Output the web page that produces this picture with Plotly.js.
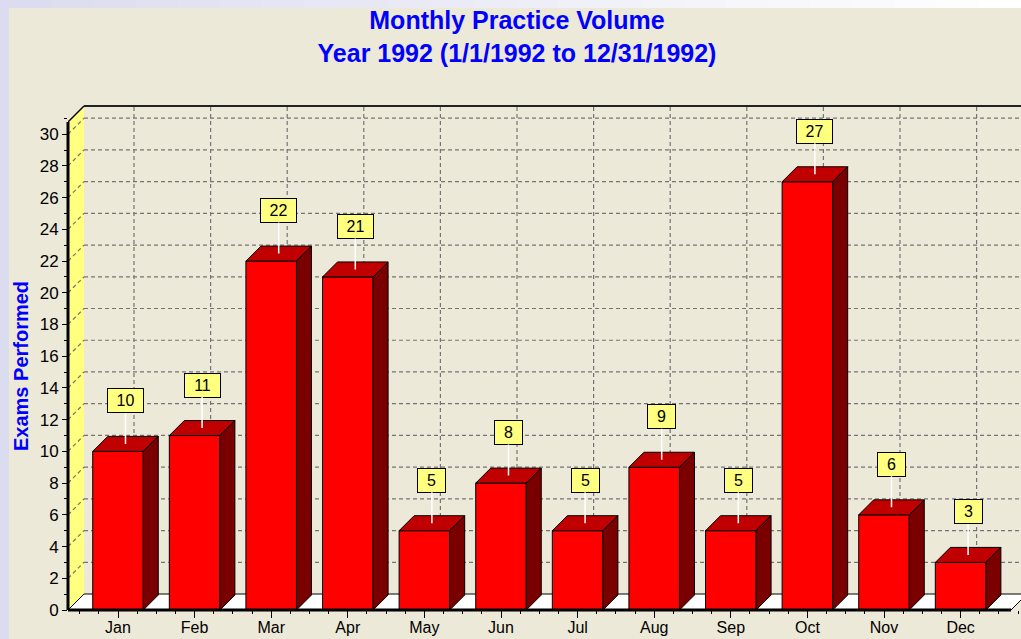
<!DOCTYPE html>
<html>
<head>
<meta charset="utf-8">
<script src="https://cdn.plot.ly/plotly-3.0.1.min.js"></script>
<style>
html,body{margin:0;padding:0;background:#ECE9D8;overflow:hidden;}
#chart{width:1021px;height:639px;}
</style>
</head>
<body>
<div id="chart"></div>
<script>
// ---------------- data ----------------
const months = ['Jan','Feb','Mar','Apr','May','Jun','Jul','Aug','Sep','Oct','Nov','Dec'];
const exams = [10, 11, 22, 21, 5, 8, 5, 9, 5, 27, 6, 3];
const yTicks = [0,2,4,6,8,10,12,14,16,18,20,22,24,26,28,30];
const yMinorTicks = [1,3,5,7,9,11,13,15,17,19,21,23,25,27,29,31];
const titleLines = ['Monthly Practice Volume', 'Year 1992 (1/1/1992 to 12/31/1992)'];
const yTitle = 'Exams Performed';

// ---------------- geometry (pixels -> data units) ----------------
const W = 1021, H = 639;
const ML = 68, MR = 0, MT = 100, MB = 29;
const PX_X = 76.6;            // px per category
const PX_Y = 15.86;           // px per exam
const X0 = (ML - 118) / PX_X; // front-left corner (first category centre at 118px)
const X1 = X0 + (W - ML - MR) / PX_X;
const YTOP = (H - MT - MB) / PX_Y;
const wdx = 16 / PX_X, wdy = 16 / PX_Y;   // wall / floor depth
const bdx = 15 / PX_X, bdy = 15 / PX_Y;   // bar depth
const half = 0.33;                        // half bar width
const backTop = YTOP - 6 / PX_Y;          // top edge of back wall
const frontTop = backTop - wdy;           // top of front axis
const floorEnd = months.length - 1 + 0.658;

const idx = months.map((m, i) => i);
const FONT = 'Liberation Sans, Arial, sans-serif';

// ---------------- bar faces ----------------
const topX = [], topY = [], sideX = [], sideY = [];
idx.forEach(i => {
  const v = exams[i];
  topX.push(i - half, i + half, i + half + bdx, i - half + bdx, i - half, null);
  topY.push(v, v, v + bdy, v + bdy, v, null);
  sideX.push(i + half, i + half + bdx, i + half + bdx, i + half, i + half, null);
  sideY.push(0, bdy, v + bdy, v, 0, null);
});

const traces = [
  {
    type: 'bar', x: idx, y: exams, width: 2 * half,
    marker: {color: '#FF0000', line: {color: '#000000', width: 1}},
    hoverinfo: 'skip', showlegend: false
  },
  {
    type: 'scatter', mode: 'lines', x: topX, y: topY, fill: 'toself',
    fillcolor: '#C00000', line: {color: '#000000', width: 1},
    hoverinfo: 'skip', showlegend: false
  },
  {
    type: 'scatter', mode: 'lines', x: sideX, y: sideY, fill: 'toself',
    fillcolor: '#7A0000', line: {color: '#000000', width: 1},
    hoverinfo: 'skip', showlegend: false
  }
];

// ---------------- decorative shapes ----------------
const shapes = [];
const pxToPaperX = px => (px - ML) / (W - ML - MR);
const pxToPaperY = py => (H - MB - py) / (H - MT - MB);
// page frame strips (lavender)
shapes.push({type: 'rect', xref: 'paper', yref: 'paper', layer: 'below',
  x0: pxToPaperX(0), x1: pxToPaperX(9), y0: pxToPaperY(H), y1: pxToPaperY(0),
  fillcolor: '#DCDCF0', line: {width: 0}});
const nSeg = 24;
for (let s = 0; s < nSeg; s++) {
  const t = s / (nSeg - 1);
  const c = Math.round(220 + t * 35), cb = Math.round(240 + t * 15);
  shapes.push({type: 'rect', xref: 'paper', yref: 'paper', layer: 'below',
    x0: pxToPaperX(9 + s * (W - 9) / nSeg), x1: pxToPaperX(9 + (s + 1) * (W - 9) / nSeg + 1),
    y0: pxToPaperY(8), y1: pxToPaperY(0),
    fillcolor: `rgb(${c},${c},${cb})`, line: {width: 0}});
}
// left side wall (yellow)
shapes.push({type: 'path', xref: 'x', yref: 'y', layer: 'below',
  path: `M ${X0},0 L ${X0},${frontTop} L ${X0 + wdx},${backTop} L ${X0 + wdx},${wdy} Z`,
  fillcolor: '#FFFF80', line: {width: 0}});
const gridLine = {color: '#747474', width: 1.2, dash: '4px,3px'};
yTicks.filter(v => v > 0).forEach(v => {
  // back-wall horizontal gridlines
  shapes.push({type: 'line', xref: 'x', yref: 'y', layer: 'below',
    x0: X0 + wdx, x1: X1 + 1, y0: v + wdy, y1: v + wdy, line: gridLine});
  // side-wall diagonal gridlines
  shapes.push({type: 'line', xref: 'x', yref: 'y', layer: 'below',
    x0: X0, x1: X0 + wdx, y0: v, y1: v + wdy, line: gridLine});
});
// back-wall vertical gridlines
idx.forEach(i => {
  shapes.push({type: 'line', xref: 'x', yref: 'y', layer: 'below',
    x0: i + wdx, x1: i + wdx, y0: wdy, y1: backTop, line: gridLine});
});
// top edges of walls
shapes.push({type: 'line', xref: 'x', yref: 'y', layer: 'below',
  x0: X0 + wdx, x1: X1 + 1, y0: backTop, y1: backTop, line: {color: '#222222', width: 2}});
shapes.push({type: 'line', xref: 'x', yref: 'y', layer: 'below',
  x0: X0, x1: X0 + wdx, y0: frontTop, y1: backTop, line: {color: '#000000', width: 1.5}});
// floor (white)
shapes.push({type: 'path', xref: 'x', yref: 'y', layer: 'below',
  path: `M ${X0},0 L ${floorEnd},0 L ${floorEnd + wdx},${wdy} L ${X0 + wdx},${wdy} Z`,
  fillcolor: '#FFFFFF', line: {color: '#000000', width: 1}});
// front axis lines (thick)
shapes.push({type: 'line', xref: 'paper', yref: 'y', layer: 'above',
  x0: 0, x1: 0, y0: 0, y1: frontTop, line: {color: '#000000', width: 3}});
shapes.push({type: 'line', xref: 'x', yref: 'paper', layer: 'above',
  x0: X0, x1: floorEnd, y0: 0, y1: 0, line: {color: '#000000', width: 3}});

// ---------------- value labels ----------------
const annotations = idx.map(i => {
  const v = exams[i];
  const txt = String(v);
  return {
    x: i + bdx / 2, y: v + bdy / 2, xref: 'x', yref: 'y',
    text: txt, showarrow: true, arrowhead: 0, arrowwidth: 1.5, arrowcolor: '#FFFFFF',
    ax: 0, ay: -43, standoff: 0,
    bgcolor: '#FFFF80', bordercolor: '#000000', borderwidth: 1, borderpad: 3,
    width: txt.length > 1 ? 29 : 21, height: 17,
    font: {family: FONT, size: 16, color: '#000000'}
  };
});
annotations.push({
  xref: 'paper', yref: 'paper', x: pxToPaperX(21), y: pxToPaperY(366),
  xanchor: 'center', yanchor: 'middle', textangle: -90, showarrow: false,
  text: yTitle, font: {family: FONT, size: 20, color: '#0000FF', weight: 'bold'}
});

const layout = {
  width: W, height: H,
  margin: {l: ML, r: MR, t: MT, b: MB, pad: 0},
  paper_bgcolor: '#ECE9D8', plot_bgcolor: 'rgba(0,0,0,0)',
  showlegend: false,
  title: {
    text: titleLines.join('<br>'),
    font: {family: FONT, size: 25, color: '#0000FF', weight: 'bold'},
    xref: 'container', x: 517 / W, xanchor: 'center',
    yref: 'container', y: 1 - 29 / H, yanchor: 'top'
  },
  xaxis: {
    range: [X0, X1], tickmode: 'array', tickvals: idx, ticktext: months,
    ticks: 'outside', ticklen: 7, tickwidth: 1, tickcolor: '#000000',
    ticklabelstandoff: -4,
    minor: {dtick: 0.25, tick0: 0, ticks: 'outside', ticklen: 3, tickwidth: 1, tickcolor: '#000000', showgrid: false},
    showgrid: false, zeroline: false, showline: false, fixedrange: true,
    tickfont: {family: FONT, size: 16, color: '#000000'}
  },
  yaxis: {
    range: [0, YTOP], tickmode: 'array', tickvals: yTicks, ticktext: yTicks.map(String),
    ticks: 'outside', ticklen: 5, tickwidth: 1, tickcolor: '#000000',
    minor: {tickmode: 'array', tickvals: yMinorTicks, ticks: 'outside', ticklen: 3, tickwidth: 1, tickcolor: '#000000', showgrid: false},
    showgrid: false, zeroline: false, showline: false, fixedrange: true,
    tickfont: {family: FONT, size: 17, color: '#000000'}
  },
  shapes: shapes,
  annotations: annotations
};

Plotly.newPlot('chart', traces, layout, {displayModeBar: false, staticPlot: true});
</script>
</body>
</html>
